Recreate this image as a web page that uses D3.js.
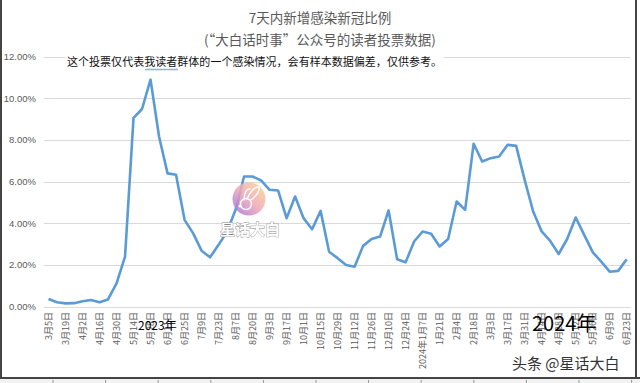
<!DOCTYPE html>
<html><head><meta charset="utf-8">
<script src="https://cdn.jsdelivr.net/npm/d3@7"></script>
<style>
html,body{margin:0;padding:0;background:#fff;}
svg{display:block;font-family:"Noto Sans CJK SC","Noto Sans",sans-serif;}
</style></head><body>
<svg id="c" width="640" height="383"></svg>
<script>
const categories = ["3月5日","3月12日","3月19日","3月26日","4月2日","4月9日","4月16日","4月23日","4月30日","5月7日",
"5月14日","5月21日","5月28日","6月4日","6月11日","6月18日","6月25日","7月2日","7月9日","7月16日",
"7月23日","7月30日","8月7日","8月13日","8月20日","8月27日","9月3日","9月10日","9月17日","9月24日",
"10月1日","10月8日","10月15日","10月22日","10月29日","11月5日","11月12日","11月19日","11月26日","12月3日",
"12月10日","12月17日","12月24日","12月31日","2024年1月7日","1月14日","1月21日","1月28日","2月4日","2月11日",
"2月18日","2月25日","3月3日","3月10日","3月17日","3月24日","3月31日","4月7日","4月14日","4月21日",
"4月28日","5月5日","5月12日","5月19日","5月26日","6月2日","6月9日","6月16日","6月23日"];
const values = [0.37,0.21,0.16,0.17,0.26,0.32,0.21,0.35,1.12,2.40,
9.06,9.49,10.90,8.17,6.40,6.33,4.17,3.53,2.69,2.37,
2.97,3.61,4.65,6.25,6.25,6.06,5.61,5.58,4.25,5.29,
4.25,3.72,4.60,2.64,2.33,2.00,1.92,2.92,3.25,3.37,
4.62,2.28,2.13,3.13,3.61,3.50,2.89,3.25,5.05,4.65,
7.82,6.97,7.13,7.21,7.77,7.72,6.09,4.57,3.61,3.16,
2.53,3.25,4.28,3.45,2.62,2.16,1.68,1.72,2.28];
const yTicks = [0,2,4,6,8,10,12];
const title = "7天内新增感染新冠比例";
const subtitle = "(“大白话时事”公众号的读者投票数据)";
const note = "这个投票仅代表我读者群体的一个感染情况，会有样本数据偏差，仅供参考。";

const svg = d3.select("#c");
const x = d3.scalePoint().domain(categories).range([48.5, 626.7]);
const y = d3.scaleLinear().domain([0, 12]).range([306.7, 56.7]);

// bottom ruler strip
svg.append("rect").attr("x",0).attr("y",379).attr("width",640).attr("height",4).attr("fill","#f2f2f2");
svg.append("g").selectAll("line").data(d3.range(53, 640, 52.6)).join("line")
  .attr("x1",d=>d).attr("x2",d=>d).attr("y1",380).attr("y2",383).attr("stroke","#999").attr("stroke-width",1);

// gridlines
svg.append("g").selectAll("line").data(yTicks).join("line")
  .attr("x1",44).attr("x2",630.5)
  .attr("y1",d=>Math.round(y(d))+0.5).attr("y2",d=>Math.round(y(d))+0.5)
  .attr("stroke","#d9d9d9").attr("stroke-width",1.2);

// y labels
svg.append("g").selectAll("text").data(yTicks).join("text")
  .attr("x",36).attr("y",d=>y(d)).attr("dy","0.35em")
  .attr("text-anchor","end").attr("font-size",9.5).attr("fill","#595959")
  .attr("font-family","Liberation Sans, Arial, sans-serif")
  .text(d=>d.toFixed(2)+"%");

// x labels (every other category)
svg.append("g").selectAll("text").data(categories.filter((d,i)=>i%2===0)).join("text")
  .attr("transform",d=>`translate(${x(d)},312) rotate(-90)`)
  .attr("text-anchor","end").attr("dominant-baseline","central")
  .attr("font-size",9).attr("fill","#595959")
  .text(d=>d);

// line
svg.append("path").datum(values)
  .attr("fill","none").attr("stroke","#5b9bd5").attr("stroke-width",2.6)
  .attr("stroke-linejoin","round")
  .attr("d", d3.line().x((d,i)=>x(categories[i])).y(d=>y(d)));

// titles
svg.append("text").attr("x",320).attr("y",23).attr("text-anchor","middle")
  .attr("font-size",13.5).attr("fill","#595959").text(title);
svg.append("text").attr("x",320).attr("y",45).attr("text-anchor","middle")
  .attr("font-size",13.5).attr("fill","#595959").text(subtitle);

// note with white background
svg.append("rect").attr("x",65).attr("y",53).attr("width",379).attr("height",16).attr("fill","#fff");
svg.append("text").attr("x",67).attr("y",66).attr("font-size",11).attr("fill","#111")
  .attr("textLength",375).text(note);
svg.append("line").attr("x1",145).attr("x2",178).attr("y1",69.5).attr("y2",69.5)
  .attr("stroke","#8fb0e8").attr("stroke-width",1.5);

// year labels
svg.append("text").attr("x",138).attr("y",330).attr("font-size",12).attr("fill","#000").text("2023年");
svg.append("text").attr("x",532).attr("y",331).attr("font-size",20).attr("fill","#000").text("2024年");

// watermark logo
const defs = svg.append("defs");
const lg = defs.append("linearGradient").attr("id","lg").attr("x1","1").attr("y1","0").attr("x2","0").attr("y2","1");
lg.append("stop").attr("offset","0").attr("stop-color","#ffd98a");
lg.append("stop").attr("offset","0.5").attr("stop-color","#f0a8b8");
lg.append("stop").attr("offset","1").attr("stop-color","#9a6de0");
const logo = svg.append("g").attr("opacity",0.85);
logo.append("circle").attr("cx",249).attr("cy",199).attr("r",16.5).attr("fill","url(#lg)");
logo.append("circle").attr("cx",246).attr("cy",204).attr("r",5.5).attr("fill","none").attr("stroke","#fff").attr("stroke-width",1.4);
logo.append("path").attr("d","M247,199 C250,192 255,186 259,187 C260,191 256,196 251,200 M244,200 C244,193 247,188 250,189")
  .attr("fill","none").attr("stroke","#fff").attr("stroke-width",1.4).attr("stroke-linecap","round");
logo.append("circle").attr("cx",240).attr("cy",206).attr("r",1.5).attr("fill","#fff");
svg.append("text").attr("x",250).attr("y",235).attr("text-anchor","middle").attr("font-size",15)
  .attr("font-weight","bold").attr("fill","#fff").attr("stroke","#888").attr("stroke-width",0.8)
  .attr("paint-order","stroke").text("星话大白");

// bottom-right watermark
svg.append("text").attr("x",512).attr("y",369).attr("font-size",15).attr("fill","#333")
  .attr("stroke","#fff").attr("stroke-width",0.5).attr("paint-order","stroke").text("头条 @星话大白");

// frame
svg.append("line").attr("x1",1).attr("x2",1).attr("y1",0).attr("y2",379).attr("stroke","#444").attr("stroke-width",2);
svg.append("line").attr("x1",636).attr("x2",636).attr("y1",0).attr("y2",379).attr("stroke","#444").attr("stroke-width",2);
svg.append("line").attr("x1",0).attr("x2",640).attr("y1",378).attr("y2",378).attr("stroke","#444").attr("stroke-width",2);
</script>
</body></html>
